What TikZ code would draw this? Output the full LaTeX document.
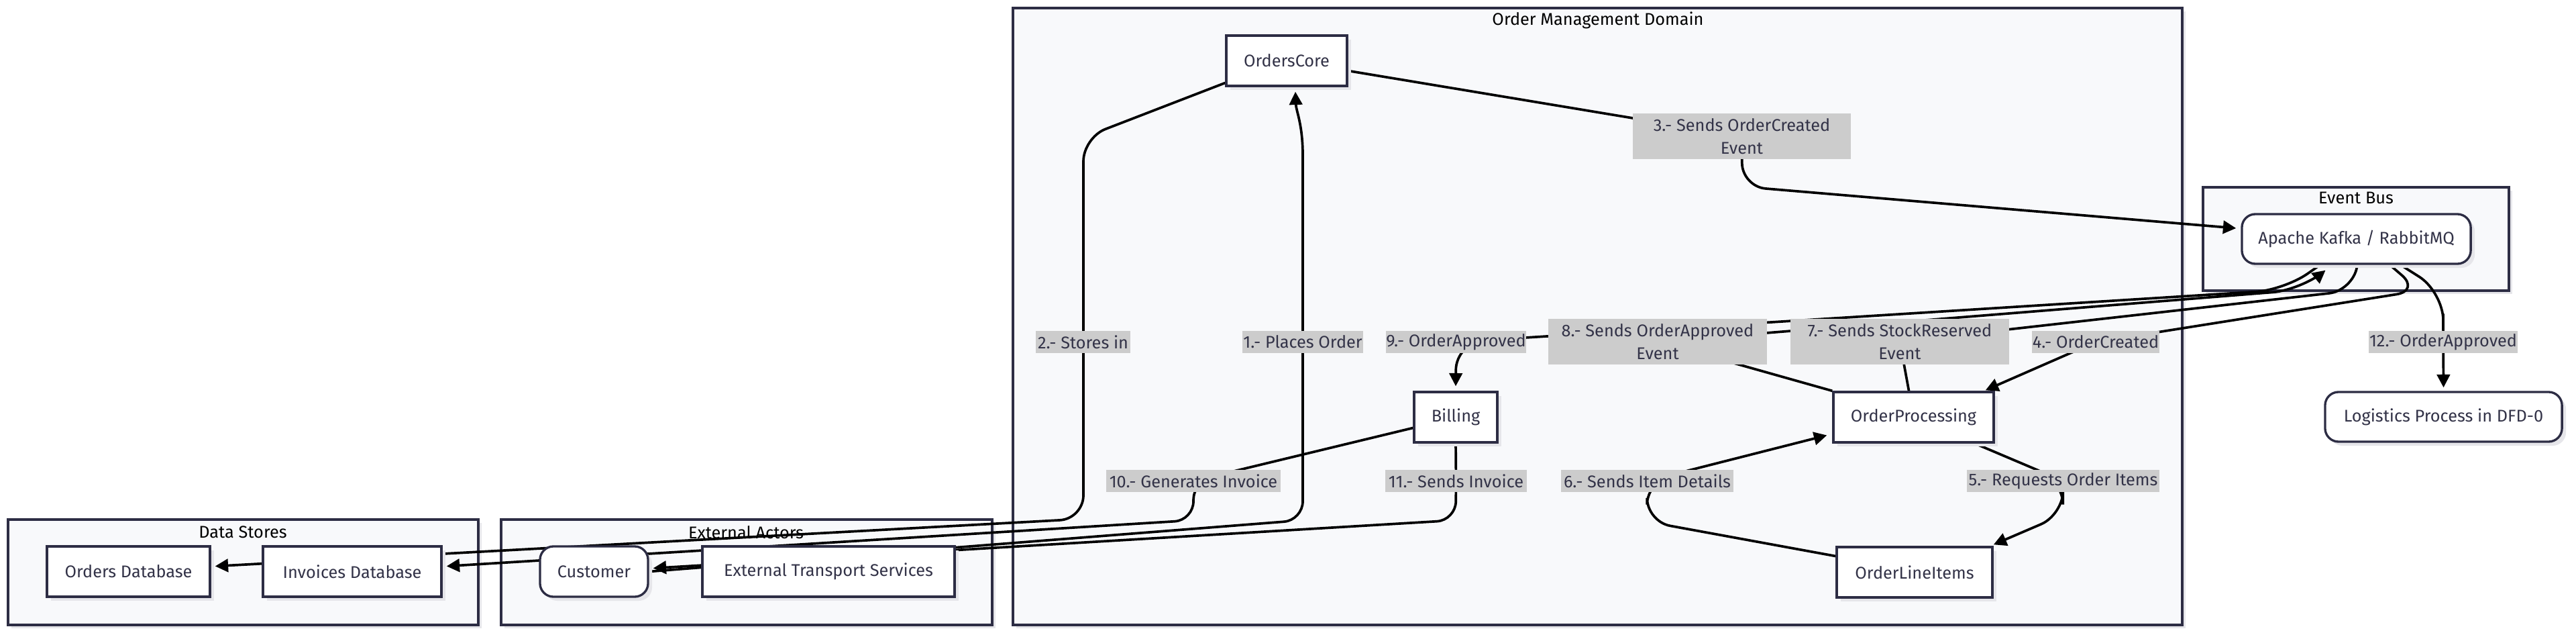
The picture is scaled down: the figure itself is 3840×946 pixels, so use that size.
\documentclass[tikz,border=0pt]{standalone}
\usepackage{fontspec}
\setmainfont{Fira Sans}
\usetikzlibrary{arrows.meta, calc, shadows}

\definecolor{ink}{HTML}{2D2D44}
\definecolor{txt}{HTML}{333348}
\definecolor{panel}{HTML}{F8F9FB}
\definecolor{tag}{HTML}{CCCCCC}
\definecolor{shade}{HTML}{E6E6EA}

\pgfdeclarelayer{bg}
\pgfdeclarelayer{edges}
\pgfsetlayers{bg,edges,main}

\begin{document}
\begin{tikzpicture}[
  x=0.01cm, y=-0.01cm,
  font=\fontsize{7.2}{9.6}\selectfont,
  box/.style={draw=ink, line width=0.95pt, fill=white, minimum height=0.75cm, inner sep=0pt, text=txt,
    drop shadow={fill=shade, opacity=1, shadow xshift=0.06cm, shadow yshift=-0.06cm}},
  roundbox/.style={box, rounded corners=0.2cm},
  cluster/.style={draw=ink, line width=0.9pt, fill=panel,
    drop shadow={fill=shade, opacity=1, shadow xshift=0.05cm, shadow yshift=-0.05cm}},
  clabel/.style={text=black, inner sep=0pt},
  elabel/.style={fill=tag, text=txt, inner sep=0pt, minimum height=0.33cm, align=center},
  flow/.style={-{Triangle[length=5.5pt, width=5.5pt]}, line width=1.05pt, black}
]
\useasboundingbox (0,0) rectangle (3840,946);

% clusters
\begin{pgfonlayer}{bg}
\draw[cluster] (12,774) rectangle (713,931);
\node[clabel] (dslabel) at (362,793) {Data Stores};
\draw[cluster] (747,774) rectangle (1479,931);
\node[clabel] (ealabel) at (1112,793) {External Actors};
\draw[cluster] (1510,12) rectangle (3253,931);
\node[clabel] (omlabel) at (2382,30) {Order Management Domain};
\draw[cluster] (3284,279) rectangle (3740,433);
\node[clabel] (eblabel) at (3512,295) {Event Bus};
\end{pgfonlayer}

% processes and stores
\node[box, minimum width=2.43cm] (ordersdb) at (191.5,851.5) {Orders Database};
\node[box, minimum width=2.66cm] (invoicesdb) at (525,851.5) {Invoices Database};
\node[roundbox, minimum width=1.61cm] (customer) at (885.5,851.5) {Customer};
\node[box, minimum width=3.76cm] (transport) at (1235,851.5) {External Transport Services};
\node[box, minimum width=1.80cm] (orderscore) at (1918,90.5) {OrdersCore};
\node[box, minimum width=1.24cm] (billing) at (2170,621.5) {Billing};
\node[box, minimum width=2.39cm] (orderproc) at (2852.5,621.5) {OrderProcessing};
\node[box, minimum width=2.32cm] (lineitems) at (2854,852.5) {OrderLineItems};
\node[roundbox, minimum width=3.41cm, minimum height=0.74cm] (bus) at (3512.5,356) {Apache Kafka / RabbitMQ};
\node[roundbox, minimum width=3.53cm, minimum height=0.74cm] (logistics) at (3642.5,621) {Logistics Process in DFD-0};

% flow labels
\node[elabel, minimum width=1.80cm] (l1) at (1942,509.5) {1.- Places Order};
\node[elabel, minimum width=1.41cm] (l2) at (1614.5,509.5) {2.- Stores in};
\node[elabel, minimum width=3.25cm, minimum height=0.68cm] (l3) at (2596.5,203) {3.- Sends OrderCreated\\Event};
\node[elabel, minimum width=1.90cm] (l4) at (3124,509.5) {4.- OrderCreated};
\node[elabel, minimum width=2.87cm] (l5) at (3075.5,716.5) {5.- Requests Order Items};
\node[elabel, minimum width=2.57cm] (l6) at (2455.5,716.5) {6.- Sends Item Details};
\node[elabel, minimum width=3.26cm, minimum height=0.68cm] (l7) at (2832,509) {7.- Sends StockReserved\\Event};
\node[elabel, minimum width=3.26cm, minimum height=0.68cm] (l8) at (2471,509) {8.- Sends OrderApproved\\Event};
\node[elabel, minimum width=2.09cm] (l9) at (2170.5,509.5) {9.- OrderApproved};
\node[elabel, minimum width=2.60cm] (l10) at (1779,716.5) {10.- Generates Invoice};
\node[elabel, minimum width=2.11cm] (l11) at (2170.5,716.5) {11.- Sends Invoice};
\node[elabel, minimum width=2.22cm] (l12) at (3642,509.5) {12.- OrderApproved};

% flows
\begin{pgfonlayer}{edges}
\draw[flow, rounded corners=8] (customer.east) -- (1942,775) -- (1942,260)
  .. controls (1942,185) and (1932,165) .. ($(orderscore.south)+(13,7)$);
\draw[flow, rounded corners=10] ($(orderscore.west)+(0,33)$) -- (1615,205) -- (1615,773)
  -- ($(ordersdb.east)+(6,-8)$);
\draw[flow, rounded corners=10] ($(orderscore.east)+(0,15)$) -- (l3.center) -- (2597,278)
  -- ($(bus.west)+(-7,-16)$);
\draw[flow, rounded corners=10] ($(bus.south)+(50,0)$) -- (3607,433) -- (l4.center)
  -- ($(orderproc.north east)+(-14,-1)$);
\draw[flow, rounded corners=10] ($(orderproc.south east)+(-30,0)$) -- (l5.center) -- (3075,767)
  -- ($(lineitems.north east)+(0,-2)$);
\draw[flow, rounded corners=10] ($(lineitems.west)+(0,-24)$) -- (2455,777) -- (l6.center)
  -- ($(orderproc.west)+(-8,27)$);
\draw[flow, rounded corners=10] ($(orderproc.north)+(-7,0)$) -- (l7.center) -- (3507,433)
  -- ($(bus.south)+(0,8)$);
\draw[flow, rounded corners=12] (orderproc.north west) -- (l8.center) -- (3430,432)
  -- ($(bus.south)+(-46,8)$);
\draw[flow, rounded corners=12] ($(bus.south)+(-54,0)$) -- (3405,432) -- (l9.center)
  -- ($(billing.north)+(0,-7)$);
\draw[flow, rounded corners=8] ($(billing.west)+(0,16)$) -- (l10.center) -- (1779,775)
  -- ($(invoicesdb.east)+(6,-8)$);
\draw[flow, rounded corners=8] (billing.south) -- (l11.center) -- (2170,775)
  -- ($(customer.east)+(6,-5)$);
\draw[flow, rounded corners=12] ($(bus.south)+(66,0)$) -- (3642,435) -- (l12.center)
  -- ($(logistics.north)+(0,-5)$);
\end{pgfonlayer}
\end{tikzpicture}
\end{document}
